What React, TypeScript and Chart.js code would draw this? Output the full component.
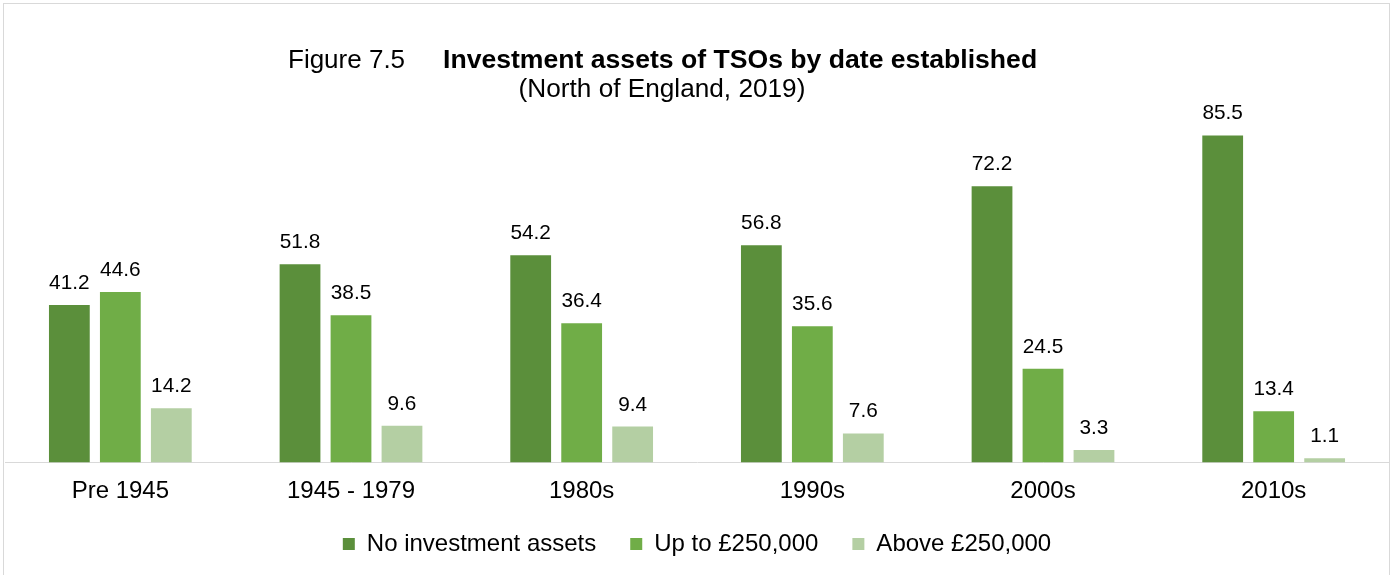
import React, { useEffect, useRef } from 'react';
import { Chart, registerables } from 'chart.js';

Chart.register(...registerables);

const FONT = "'Liberation Sans', Arial, Helvetica, sans-serif";

const categories = ['Pre 1945', '1945 - 1979', '1980s', '1990s', '2000s', '2010s'];
const noInvestment = [41.2, 51.8, 54.2, 56.8, 72.2, 85.5];
const upTo250k = [44.6, 38.5, 36.4, 35.6, 24.5, 13.4];
const above250k = [14.2, 9.6, 9.4, 7.6, 3.3, 1.1];
const seriesNames = ['No investment assets', 'Up to £250,000', 'Above £250,000'];
const seriesColors = ['#5b8f3b', '#70ad47', '#b4cfa3'];
const titlePrefix = 'Figure 7.5';
const titleMain = 'Investment assets of TSOs by date established';
const subtitleText = '(North of England, 2019)';

const dataLabelPlugin = {
  id: 'dataLabels',
  afterDatasetsDraw(chart: any) {
    const ctx = chart.ctx;
    ctx.save();
    ctx.font = `20.8px ${FONT}`;
    ctx.fillStyle = '#000000';
    ctx.textAlign = 'center';
    ctx.textBaseline = 'alphabetic';
    chart.data.datasets.forEach((ds: any, i: number) => {
      const meta = chart.getDatasetMeta(i);
      meta.data.forEach((el: any, j: number) => {
        ctx.fillText(Number(ds.data[j]).toFixed(1), el.x, el.y - 16);
      });
    });
    ctx.restore();
  },
};

const titlePlugin = {
  id: 'figureTitle',
  afterDraw(chart: any) {
    const ctx = chart.ctx;
    ctx.save();
    ctx.fillStyle = '#000000';
    ctx.textBaseline = 'alphabetic';
    ctx.textAlign = 'left';
    ctx.font = `26px ${FONT}`;
    ctx.fillText(titlePrefix, 288, 68);
    ctx.font = `bold 26.6px ${FONT}`;
    ctx.fillText(titleMain, 443, 68);
    ctx.font = `26.2px ${FONT}`;
    ctx.textAlign = 'center';
    ctx.fillText(subtitleText, 662, 97);
    ctx.restore();
  },
};

export default function App() {
  const canvasRef = useRef<HTMLCanvasElement | null>(null);

  useEffect(() => {
    if (!canvasRef.current) return;
    const seriesData = [noInvestment, upTo250k, above250k];
    const chart = new Chart(canvasRef.current, {
      type: 'bar',
      data: {
        labels: categories,
        datasets: seriesNames.map((name, i) => ({
          label: name,
          data: seriesData[i],
          backgroundColor: seriesColors[i],
          borderWidth: 0,
          barPercentage: 0.8,
          categoryPercentage: 0.663,
        })),
      },
      options: {
        animation: false,
        responsive: true,
        maintainAspectRatio: false,
        events: [],
        layout: { padding: { top: 80, left: 5, right: 8, bottom: 9 } },
        plugins: {
          tooltip: { enabled: false },
          title: { display: false },
          legend: {
            display: true,
            position: 'bottom',
            labels: {
              boxWidth: 12,
              boxHeight: 12,
              padding: 34,
              color: '#000000',
              font: { size: 24, family: FONT },
            },
          },
        },
        scales: {
          x: {
            grid: { display: false, drawTicks: false },
            border: { display: true, color: '#d9d9d9', width: 1 },
            ticks: {
              color: '#000000',
              padding: 14,
              font: { size: 24, family: FONT },
            },
            afterFit: (scale: any) => {
              scale.height = 35.5;
            },
          },
          y: {
            display: false,
            min: 0,
            max: 100,
          },
        },
      },
      plugins: [dataLabelPlugin, titlePlugin],
    });
    return () => chart.destroy();
  }, []);

  return (
    <div
      style={{
        position: 'absolute',
        left: 0,
        top: 0,
        width: 1397,
        height: 575,
        overflow: 'hidden',
        background: '#ffffff',
      }}
    >
      <div
        style={{
          position: 'absolute',
          left: 3,
          top: 3,
          width: 1387,
          height: 640,
          boxSizing: 'border-box',
          border: '1px solid #d9d9d9',
        }}
      />
      <div style={{ position: 'absolute', left: 0, top: 0, width: 1397, height: 575 }}>
        <canvas ref={canvasRef} />
      </div>
    </div>
  );
}
